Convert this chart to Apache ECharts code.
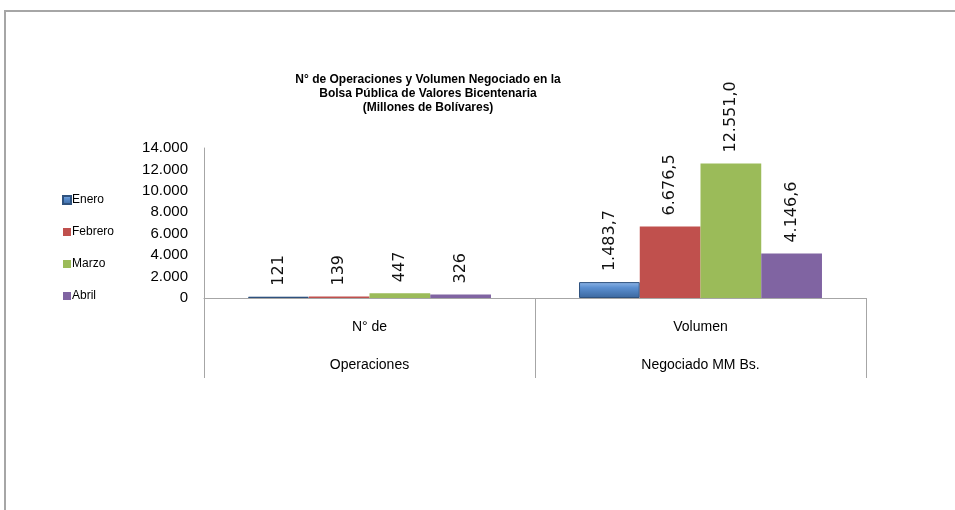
<!DOCTYPE html>
<html>
<head>
<meta charset="utf-8">
<script src="https://cdn.jsdelivr.net/npm/echarts@6/dist/echarts.min.js"></script>
<style>
  html, body { margin: 0; padding: 0; background: #fff; }
  #chart { width: 955px; height: 510px; }
  .frame { position: absolute; left: 4px; top: 10px; right: 0; bottom: 0;
           border-left: 2px solid #a6a6a6; border-top: 2px solid #a6a6a6; pointer-events: none; }
</style>
</head>
<body>
<div id="chart"></div>
<div class="frame"></div>
<script>
// categorías y valores
const categories = ['N° de\nOperaciones', 'Volumen\nNegociado MM Bs.']
const months = ['Enero', 'Febrero', 'Marzo', 'Abril']
const enero = [121, 1483.7]
const febrero = [139, 6676.5]
const marzo = [447, 12551.0]
const abril = [326, 4146.6]
const yTicks = [0, 2000, 4000, 6000, 8000, 10000, 12000, 14000]

const narrow = '"Liberation Sans Narrow", "Arial Narrow", "Liberation Sans", sans-serif'

// formato español: 1.483,7
const fmt = (v, dec) => {
  const parts = v.toFixed(dec).split('.')
  parts[0] = parts[0].replace(/\B(?=(\d{3})+(?!\d))/g, '.')
  return parts.join(',')
}

const chart = echarts.init(document.getElementById('chart'))

const makeSeries = (name, data, color, style) => ({
  name,
  type: 'bar',
  data,
  barGap: '0%',
  barCategoryGap: '26.6%',
  itemStyle: style || { color },
  label: {
    show: true,
    position: 'top',
    rotate: 90,
    align: 'left',
    verticalAlign: 'middle',
    distance: 11,
    color: '#111',
    fontFamily: '"DejaVu Sans", sans-serif',
    fontSize: 16,
    formatter: (p) => fmt(p.value, p.dataIndex === 0 ? 0 : 1)
  }
})

chart.setOption({
  animation: false,
  title: {
    text: 'N° de Operaciones y Volumen Negociado en la\nBolsa Pública de Valores Bicentenaria\n(Millones de Bolívares)',
    left: 423,
    top: 68,
    textAlign: 'center',
    textStyle: {
      fontFamily: narrow,
      fontSize: 12,
      fontWeight: 'bold',
      lineHeight: 14,
      color: '#000'
    }
  },
  legend: {
    orient: 'vertical',
    left: 57,
    top: 189,
    itemWidth: 8,
    itemHeight: 8,
    itemGap: 20,
    icon: 'rect',
    textStyle: { fontFamily: narrow, fontSize: 12, color: '#000', padding: [0, 0, 0, -4] },
    data: months
  },
  grid: { left: 204, right: 89, top: 148, bottom: 212 },
  xAxis: {
    type: 'category',
    data: categories,
    axisLine: { lineStyle: { color: '#a6a6a6', width: 1 } },
    axisTick: { show: true, length: 80, lineStyle: { color: '#a6a6a6' } },
    axisLabel: {
      color: '#000',
      fontFamily: narrow,
      fontSize: 14,
      lineHeight: 38,
      margin: 10
    }
  },
  yAxis: {
    type: 'value',
    min: yTicks[0],
    max: yTicks[yTicks.length - 1],
    interval: 2000,
    splitLine: { show: false },
    axisLine: { show: true, lineStyle: { color: '#a6a6a6', width: 1 } },
    axisTick: { show: false },
    axisLabel: {
      color: '#000',
      fontFamily: narrow,
      fontSize: 15,
      margin: 16,
      formatter: (v) => fmt(v, 0)
    }
  },
  series: [
    makeSeries('Enero', enero, '#4F81BD', {
      color: new echarts.graphic.LinearGradient(0, 0, 0, 1, [
        { offset: 0, color: '#8fb5e6' },
        { offset: 0.35, color: '#5b8fd0' },
        { offset: 1, color: '#3b679e' }
      ]),
      borderColor: '#2f527e',
      borderWidth: 1
    }),
    makeSeries('Febrero', febrero, '#C0504D'),
    makeSeries('Marzo', marzo, '#9BBB59'),
    makeSeries('Abril', abril, '#8064A2')
  ]
})
</script>
</body>
</html>
